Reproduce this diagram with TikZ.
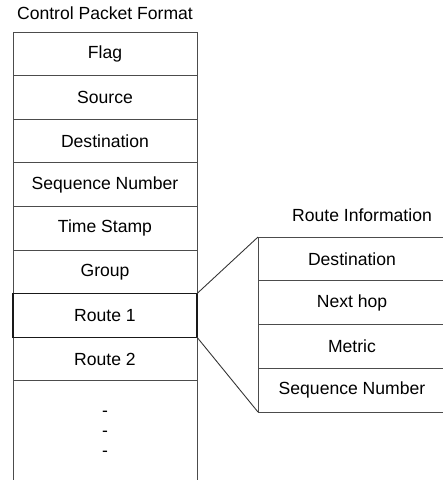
\documentclass[tikz,border=0pt]{standalone}
\usepackage{fontspec}
\setmainfont{Liberation Sans}
\usetikzlibrary{positioning}

\tikzset{
  field/.style={draw=black!70, line width=0.5pt, minimum width=3.68cm, minimum height=0.872cm,
    inner sep=0pt, outer sep=0pt, font=\fontsize{10}{12}\selectfont},
  rfield/.style={field, minimum width=3.76cm, minimum height=0.875cm},
  caption/.style={font=\fontsize{10}{12}\selectfont},
  link/.style={draw=black!80, line width=0.5pt}
}

\begin{document}
\begin{tikzpicture}
  \useasboundingbox (0,0) rectangle (8.86,-9.6);

  % packet
  \node[caption] (title) at (2.1,-0.26) {Control Packet Format};
  \node[field] (flag) at (2.1,-1.076) {Flag};
  \node[field, below=0pt of flag] (src) {Source};
  \node[field, below=0pt of src] (dst) {Destination};
  \node[field, below=0pt of dst] (seq) {Sequence Number};
  \node[field, below=0pt of seq] (stamp) {Time Stamp};
  \node[field, below=0pt of stamp] (group) {Group};
  \node[field, below=0pt of group] (route1) {Route 1};
  \node[field, below=0pt of route1] (route2) {Route 2};
  \node[field, minimum height=2.4cm, below=0pt of route2] (rest) {};
  \node[align=center, font=\fontsize{10}{11.4}\selectfont] (dots) at (2.1,-8.68) {-\\-\\-};
  \draw[draw=black!90, line width=0.8pt] (route1.north west) rectangle (route1.south east);

  % route information
  \node[caption] (rtitle) at (7.24,-4.3) {Route Information};
  \node[rfield] (rdst) at (7.04,-5.178) {Destination};
  \node[rfield, below=0pt of rdst] (rhop) {Next hop};
  \node[rfield, below=0pt of rhop] (rmetric) {Metric};
  \node[rfield, below=0pt of rmetric] (rseq) {Sequence Number};

  \draw[link] (route1.north east) -- (rdst.north west);
  \draw[link] (route1.south east) -- (rseq.south west);
\end{tikzpicture}
\end{document}
